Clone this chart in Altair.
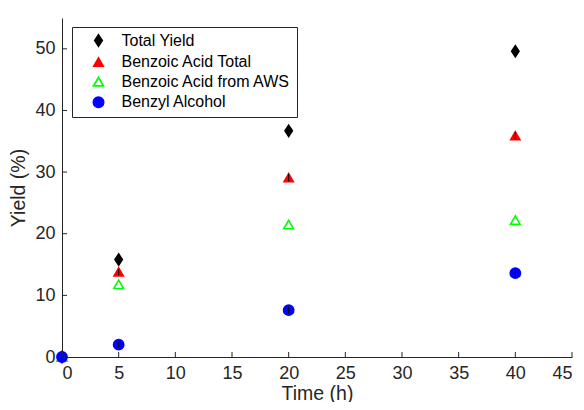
import altair as alt
import pandas as pd

time = [0, 5, 20, 40]
series_names = ["Total Yield", "Benzoic Acid Total", "Benzoic Acid from AWS", "Benzyl Alcohol"]
total_yield = [0, 15.8, 36.7, 49.6]
ba_total = [0, 13.8, 29.1, 35.9]
ba_aws = [0, 11.8, 21.5, 22.2]
benzyl = [0, 2.0, 7.6, 13.6]
err_total = [0, 0.5, 0.6, 0.6]
err_ba_total = [0, 0.5, 0.6, 0.6]
err_aws = [0, 0.0, 0.0, 0.0]
err_benzyl = [0, 0.5, 0.6, 0.6]
x_ticks = [0, 5, 10, 15, 20, 25, 30, 35, 40, 45]
y_ticks = [0, 10, 20, 30, 40, 50]

stroke_colors = ["#000000", "#ff0000", "#00ff00", "#0000ff"]
fill_colors = ["#000000", "#ff0000", "transparent", "#0000ff"]
diamond = "M0,-1.3L0.85,0L0,1.3L-0.85,0Z"
shapes = [diamond, "triangle-up", "triangle-up", "circle"]
sizes = [75, 105, 140, 80]

rows = []
for name, vals, errs in zip(series_names, [total_yield, ba_total, ba_aws, benzyl],
                            [err_total, err_ba_total, err_aws, err_benzyl]):
    for t, v, e in zip(time, vals, errs):
        rows.append({"series": name, "time": t, "yield": v, "lo": v - e, "hi": v + e})
df = pd.DataFrame(rows)
df["order"] = df["series"].map({n: i for i, n in enumerate(series_names)})

font = "Liberation Sans"
xs = alt.Scale(domain=[0, 45], nice=False)
ys = alt.Scale(domain=[0, 55], nice=False)

base = alt.Chart(df)

points = base.mark_point(filled=False, strokeWidth=1.6, opacity=1).encode(
    x=alt.X("time:Q", scale=xs,
            axis=alt.Axis(values=x_ticks, title="Time (h)", grid=False, tickSize=0,
                          labelPadding=7, titlePadding=2)),
    y=alt.Y("yield:Q", scale=ys,
            axis=alt.Axis(values=y_ticks, title="Yield (%)", grid=False, tickSize=0,
                          labelPadding=7, titlePadding=6)),
    shape=alt.Shape("series:N", scale=alt.Scale(domain=series_names, range=shapes),
                    legend=alt.Legend(title=None, orient="none", legendX=10, legendY=9)),
    stroke=alt.Stroke("series:N", scale=alt.Scale(domain=series_names, range=stroke_colors)),
    fill=alt.Fill("series:N", scale=alt.Scale(domain=series_names, range=fill_colors)),
    size=alt.Size("series:N", scale=alt.Scale(domain=series_names, range=sizes)),
    order=alt.Order("order:Q"),
)

errbars = base.transform_filter("datum.hi > datum.lo").mark_rule(color="black", strokeWidth=1).encode(
    x=alt.X("time:Q", scale=xs),
    y=alt.Y("lo:Q", scale=ys),
    y2="hi:Q",
)

xt = alt.Chart(pd.DataFrame({"t": x_ticks})).mark_rule(color="#262626", strokeWidth=1).encode(
    x=alt.X("t:Q", scale=xs), y=alt.value(339), y2=alt.value(334))
yt = alt.Chart(pd.DataFrame({"t": y_ticks})).mark_rule(color="#262626", strokeWidth=1).encode(
    y=alt.Y("t:Q", scale=ys), x=alt.value(0), x2=alt.value(5))

chart = alt.layer(points, errbars, xt, yt).properties(
    width=510, height=339,
    autosize=alt.AutoSizeParams(type="none"),
    padding={"left": 54, "top": 10, "right": 4, "bottom": 45},
).configure_view(stroke=None).configure_axis(
    domainColor="#262626", labelColor="#262626", titleColor="#262626",
    labelFont=font, titleFont=font, labelFontSize=18, titleFontSize=19.5,
    titleFontWeight="normal",
).configure_legend(
    labelFont=font, labelFontSize=16, labelColor="#000000", labelLimit=400,
    strokeColor="#262626", fillColor="#ffffff", padding=5.5,
    rowPadding=3.6, symbolOffset=13, labelOffset=15,
    symbolStrokeWidth=1.8,
)

chart.save("out.html", embed_options={"renderer": "svg", "actions": False})
